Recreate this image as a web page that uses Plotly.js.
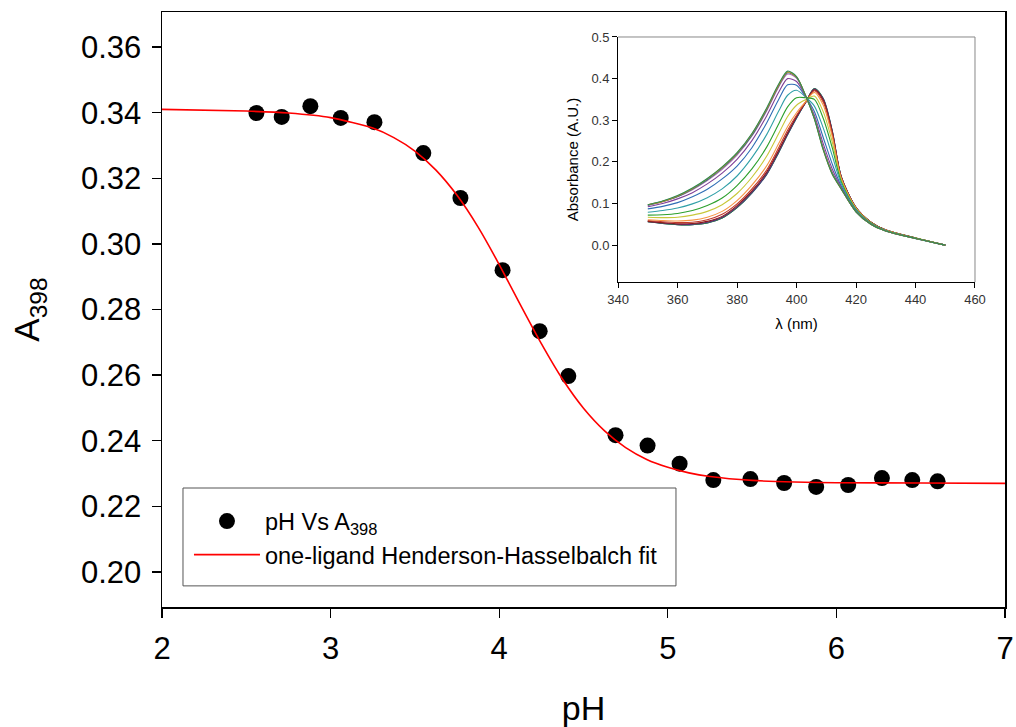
<!DOCTYPE html>
<html>
<head>
<meta charset="utf-8">
<script src="https://cdn.plot.ly/plotly-3.0.1.min.js"></script>
<style>html,body{margin:0;padding:0;background:#fff;}#chart{width:1016px;height:727px;}</style>
</head>
<body>
<div id="chart"></div>
<script>
// ---- main titration data (pH vs A398) ----
const pH = [2.56, 2.71, 2.88, 3.06, 3.26, 3.55, 3.77, 4.02, 4.24, 4.41, 4.69, 4.88, 5.07, 5.27, 5.49, 5.69, 5.88, 6.07, 6.27, 6.45, 6.60];
const A398 = [0.3399, 0.3387, 0.3420, 0.3384, 0.3371, 0.3277, 0.3140, 0.2920, 0.2734, 0.2597, 0.2417, 0.2385, 0.2330, 0.2280, 0.2283, 0.2271, 0.2259, 0.2265, 0.2286, 0.2280, 0.2276];

// ---- fitted Henderson-Hasselbalch curve ----
const fitPH = [2.0, 2.5, 2.75, 3.0, 3.25, 3.375, 3.5, 3.625, 3.75, 3.875, 4.0, 4.125, 4.25, 4.375, 4.5, 4.625, 4.75, 4.875, 5.0, 5.125, 5.25, 5.5, 5.75, 6.0, 6.5, 7.0];
const fitA = [0.3410, 0.3405, 0.3399, 0.3385, 0.3353, 0.3324, 0.3283, 0.3225, 0.3148, 0.3051, 0.2937, 0.2815, 0.2696, 0.2588, 0.2499, 0.2430, 0.2379, 0.2343, 0.2319, 0.2302, 0.2291, 0.2279, 0.2274, 0.2272, 0.2271, 0.2270];

// ---- inset spectra ----
const wavelength = [350, 355, 360, 365, 370, 375, 380, 385, 390, 394, 397, 400, 403, 406, 409, 412, 415, 420, 425, 430, 440, 450];
const spectrum01 = [.097,.106,.119,.137,.160,.188,.222,.268,.330,.387,.418,.405,.360,.303,.228,.170,.135,.080,.050,.034,.016,0];
const spectrum02 = [.097,.105,.118,.136,.159,.187,.221,.267,.328,.385,.416,.404,.360,.304,.229,.171,.135,.080,.050,.034,.016,0];
const spectrum03 = [.096,.105,.117,.135,.157,.185,.219,.264,.326,.383,.414,.403,.360,.305,.231,.173,.136,.080,.050,.034,.016,0];
const spectrum04 = [.095,.104,.116,.133,.155,.182,.216,.262,.323,.380,.411,.401,.359,.306,.234,.175,.136,.080,.050,.034,.016,0];
const spectrum05 = [.092,.100,.111,.126,.147,.173,.206,.251,.311,.367,.400,.393,.358,.312,.243,.183,.139,.081,.051,.034,.016,0];
const spectrum06 = [.087,.093,.102,.116,.134,.159,.190,.234,.294,.350,.385,.384,.357,.321,.258,.195,.142,.082,.051,.034,.016,0];
const spectrum07 = [.079,.083,.089,.099,.114,.135,.166,.210,.266,.322,.360,.372,.356,.334,.281,.215,.148,.084,.052,.035,.016,0];
const spectrum08 = [.072,.073,.076,.083,.095,.113,.143,.183,.236,.291,.332,.354,.354,.350,.304,.234,.153,.086,.053,.035,.017,0];
const spectrum09 = [.067,.066,.067,.072,.081,.097,.124,.163,.214,.268,.309,.336,.349,.358,.320,.248,.157,.087,.054,.035,.017,0];
const spectrum10 = [.061,.059,.058,.060,.067,.081,.107,.144,.191,.244,.285,.318,.344,.367,.336,.261,.161,.089,.054,.036,.017,0];
const spectrum11 = [.059,.056,.054,.055,.061,.074,.099,.135,.181,.234,.276,.312,.343,.371,.343,.268,.163,.089,.055,.036,.017,0];
const spectrum12 = [.057,.054,.051,.052,.057,.069,.095,.130,.176,.228,.270,.309,.343,.373,.348,.271,.164,.090,.055,.036,.017,0];
const spectrum13 = [.057,.053,.050,.050,.055,.067,.092,.127,.172,.225,.267,.307,.342,.375,.350,.273,.165,.090,.055,.036,.017,0];
const spectrum14 = [.056,.052,.049,.049,.053,.065,.090,.126,.171,.223,.266,.306,.342,.376,.351,.274,.165,.090,.055,.036,.017,0];
const spectrum15 = [.056,.052,.049,.049,.053,.065,.090,.125,.170,.222,.265,.305,.342,.376,.352,.275,.165,.090,.055,.036,.017,0];

const spectra = [spectrum15, spectrum14, spectrum13, spectrum12, spectrum11, spectrum10, spectrum09, spectrum08, spectrum07, spectrum06, spectrum05, spectrum04, spectrum03, spectrum02, spectrum01];
const spectraColors = ['#1F2F7A', '#2E8B3E', '#5B2C83', '#8B1A1A', '#C0392B', '#F79646', '#C8C83A', '#2CA02C', '#31A0A8', '#2F6DB5', '#7F3F98', '#B565B5', '#1E7B7B', '#E08A10', '#2E8B57'];

const FONT = 'Liberation Sans, Arial, sans-serif';

const traces = [];
spectra.forEach((s, i) => {
  traces.push({
    x: wavelength, y: s, xaxis: 'x2', yaxis: 'y2', type: 'scatter', mode: 'lines',
    line: {color: spectraColors[i], width: 1.1, shape: 'spline', smoothing: 0.8},
    showlegend: false, hoverinfo: 'skip'
  });
});
traces.push({
  x: pH, y: A398, type: 'scatter', mode: 'markers', name: 'pH Vs A<sub>398</sub>',
  marker: {color: '#000', size: 16}
});
traces.push({
  x: fitPH, y: fitA, type: 'scatter', mode: 'lines', name: 'one-ligand Henderson-Hasselbalch fit',
  line: {color: '#FF0000', width: 1.6, shape: 'spline', smoothing: 0.6}
});

const layout = {
  width: 1016, height: 727,
  margin: {l: 162, r: 11, t: 12, b: 120},
  paper_bgcolor: '#fff', plot_bgcolor: '#fff',
  font: {family: FONT, color: '#000'},
  showlegend: true,
  legend: {
    x: 0.032, y: 0.181, xanchor: 'left', yanchor: 'top',
    bgcolor: 'rgba(0,0,0,0)', borderwidth: 0,
    font: {family: FONT, size: 23.5, color: '#000'},
    itemwidth: 66, tracegroupgap: 0
  },
  xaxis: {
    range: [2, 7], tick0: 2, dtick: 1, ticks: 'outside', ticklen: 9, tickwidth: 1.3, tickcolor: '#000',
    showline: true, linecolor: '#000', linewidth: 1.5, mirror: true, showgrid: false, zeroline: false,
    tickfont: {family: FONT, size: 31, color: '#000'}, ticklabelstandoff: 4,
    title: {text: 'pH', font: {family: FONT, size: 34, color: '#000'}, standoff: 32}
  },
  yaxis: {
    range: [0.1893, 0.3707], tick0: 0.20, dtick: 0.02, tickformat: '.2f', ticks: 'outside', ticklen: 9, tickwidth: 1.3, tickcolor: '#000',
    showline: true, linecolor: '#000', linewidth: 1.5, mirror: true, showgrid: false, zeroline: false,
    tickfont: {family: FONT, size: 31, color: '#000'}, ticklabelstandoff: 4,
    title: {text: 'A<sub>398</sub>', font: {family: FONT, size: 35, color: '#000'}, standoff: 30}
  },
  xaxis2: {
    domain: [0.541, 0.9644], anchor: 'y2', range: [340, 460], tick0: 340, dtick: 20,
    ticks: 'outside', ticklen: 5, tickwidth: 1, tickcolor: '#000',
    showline: true, linecolor: '#000', linewidth: 1, showgrid: false, zeroline: false,
    tickfont: {family: FONT, size: 13, color: '#333'},
    title: {text: 'λ (nm)', font: {family: FONT, size: 15, color: '#000'}, standoff: 12}
  },
  yaxis2: {
    domain: [0.546, 0.958], anchor: 'x2', range: [-0.089, 0.5], tick0: 0, dtick: 0.1, tickformat: '.1f',
    ticks: 'outside', ticklen: 5, tickwidth: 1, tickcolor: '#000',
    showline: true, linecolor: '#000', linewidth: 1, showgrid: false, zeroline: false,
    tickfont: {family: FONT, size: 13, color: '#333'},
    title: {text: 'Absorbance (A.U.)', font: {family: FONT, size: 15, color: '#000'}, standoff: 9}
  },
  shapes: [
    {type: 'line', xref: 'x2 domain', yref: 'y2 domain', x0: 0, x1: 1, y0: 1, y1: 1, line: {color: '#888', width: 1}},
    {type: 'line', xref: 'x2 domain', yref: 'y2 domain', x0: 1, x1: 1, y0: 0, y1: 1, line: {color: '#888', width: 1}},
    {type: 'rect', xref: 'paper', yref: 'paper', x0: 0.0249, x1: 0.6097, y0: 0.0355, y1: 0.2, line: {color: '#555', width: 1}, fillcolor: 'rgba(0,0,0,0)', layer: 'below'}
  ]
};

Plotly.newPlot('chart', traces, layout, {displayModeBar: false, staticPlot: true});
</script>
</body>
</html>
